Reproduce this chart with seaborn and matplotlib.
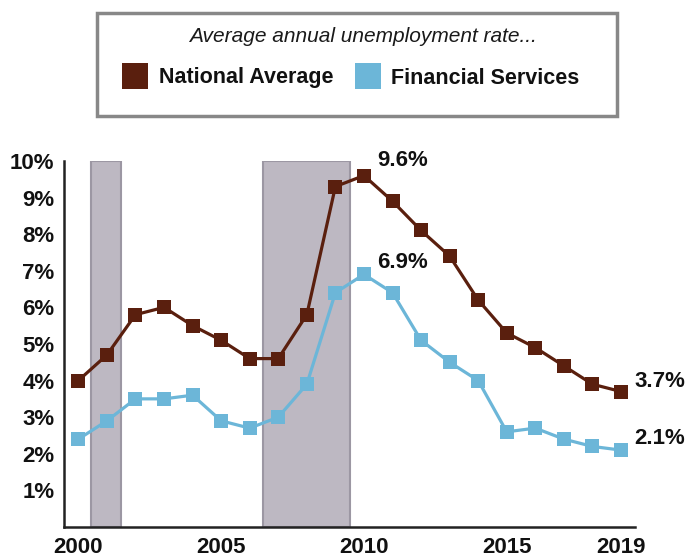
import numpy as np
import pandas as pd
import matplotlib
matplotlib.use('Agg')
import matplotlib.pyplot as plt
import seaborn as sns
from matplotlib.patches import Rectangle
from matplotlib.lines import Line2D

# data
years = list(range(2000, 2020))
national = [4.0, 4.7, 5.8, 6.0, 5.5, 5.1, 4.6, 4.6, 5.8, 9.3,
            9.6, 8.9, 8.1, 7.4, 6.2, 5.3, 4.9, 4.4, 3.9, 3.7]
financial = [2.4, 2.9, 3.5, 3.5, 3.6, 2.9, 2.7, 3.0, 3.9, 6.4,
             6.9, 6.4, 5.1, 4.5, 4.0, 2.6, 2.7, 2.4, 2.2, 2.1]
series_names = ['National Average', 'Financial Services']
recessions = [(2000.45, 2001.5), (2006.45, 2009.5)]
y_ticks = list(range(1, 11))
x_ticks = [2000, 2005, 2010, 2015, 2019]

colors = {'National Average': '#5a1f0e', 'Financial Services': '#6cb6d8'}

df = pd.DataFrame({
    'year': years * 2,
    'rate': national + financial,
    'series': [series_names[0]] * len(years) + [series_names[1]] * len(years),
})

sns.set_style('white')
plt.rcParams['font.family'] = ['Liberation Sans', 'DejaVu Sans']

fig = plt.figure(figsize=(6.89, 5.58), dpi=100)
ax = fig.add_axes([0.093, 0.0556, 0.829, 0.656])

# recession shading
for a, b in recessions:
    ax.axvspan(a, b, facecolor='#bdb8c2', edgecolor='#9c97a3', lw=1.5, zorder=0)

sns.lineplot(data=df, x='year', y='rate', hue='series', palette=colors,
             marker='s', markersize=9.5, markeredgewidth=0, linewidth=2.3,
             legend=False, ax=ax, zorder=3)

ax.set_xlim(1999.5, 2019.5)
ax.set_ylim(0, 10)
ax.set_xticks(x_ticks)
ax.set_yticks(y_ticks)
ax.set_yticklabels([f'{v}%' for v in y_ticks])
ax.set_xlabel('')
ax.set_ylabel('')
ax.tick_params(axis='both', length=0, labelsize=16, colors='#111111')
ax.tick_params(axis='y', pad=7)
ax.tick_params(axis='x', pad=7)
for lab in ax.get_xticklabels() + ax.get_yticklabels():
    lab.set_fontweight('bold')
for s in ['top', 'right']:
    ax.spines[s].set_visible(False)
for s in ['left', 'bottom']:
    ax.spines[s].set_color('#222222')
    ax.spines[s].set_linewidth(1.8)

# value labels
lab_kw = dict(textcoords='offset pixels', fontsize=16, fontweight='bold',
              ha='left', va='center', color='#111111')
ax.annotate(f'{national[10]}%', (years[10], national[10]), xytext=(13, 15), **lab_kw)
ax.annotate(f'{financial[10]}%', (years[10], financial[10]), xytext=(13, 12), **lab_kw)
ax.annotate(f'{national[-1]}%', (years[-1], national[-1]), xytext=(13, 10), **lab_kw)
ax.annotate(f'{financial[-1]}%', (years[-1], financial[-1]), xytext=(13, 12), **lab_kw)

# legend box
fig.patches.append(Rectangle((97 / 689, 1 - 116 / 558), 520 / 689, 103 / 558,
                             transform=fig.transFigure, facecolor='white',
                             edgecolor='#888888', lw=2.5))
fig.text(363 / 689, 1 - 37 / 558, 'Average annual unemployment rate...',
         ha='center', va='center', fontsize=15, style='italic', color='#1a1a1a')
handles = [Line2D([], [], ls='none', marker='s', markersize=19,
                  markerfacecolor=colors[n], markeredgewidth=0) for n in series_names]
leg = fig.legend(handles, series_names, loc='center',
                 bbox_to_anchor=(351 / 689, 1 - 78 / 558), ncol=2, frameon=False,
                 prop={'weight': 'bold', 'size': 15.5}, handletextpad=0.5,
                 columnspacing=1.0, handlelength=1.2)
for t in leg.get_texts():
    t.set_color('#111111')

fig.savefig('out.png', dpi=100)
